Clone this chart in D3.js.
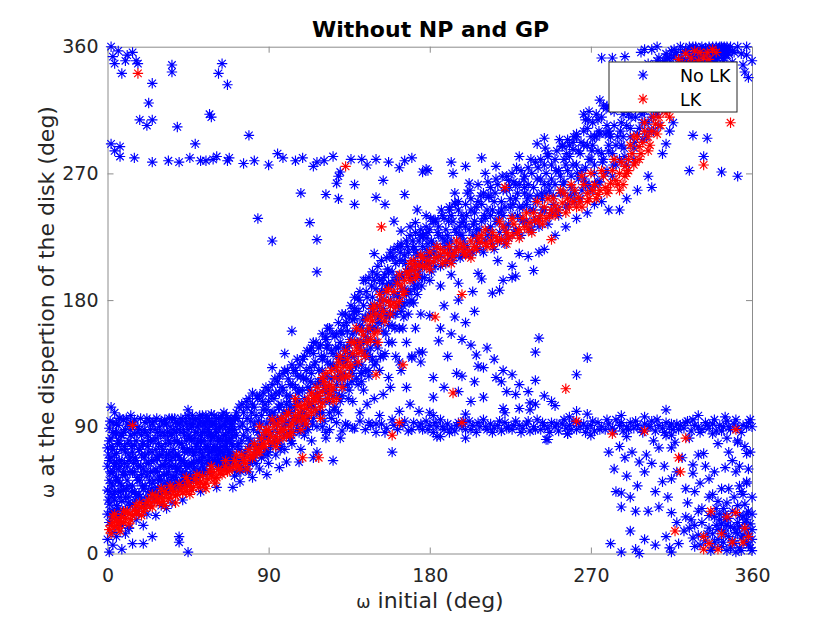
<!DOCTYPE html>
<html>
<head>
<meta charset="utf-8">
<title>Without NP and GP</title>
<script src="https://cdn.jsdelivr.net/npm/d3@7"></script>
<style>
  body { margin: 0; background: #fff; }
  text { font-family: "DejaVu Sans", sans-serif; }
</style>
</head>
<body>
<script>
// tick values
var xTicks = [0, 90, 180, 270, 360];
var yTicks = [0, 90, 180, 270, 360];

// "No LK" points, [omega initial, omega at dispersion], read off the picture by region
var noLKTopLeft = [[2,360],[3,353],[4,348],[8,341],[11,354],[10,350],[16,350],[17,348],[14,356],[6,357],
  [25,334],[23,320],[18,308],[22,304],[25,308],[36,347],[36,342],[39,303],[57,312],[58,310],[62,341],
  [64,348],[67,333],[49,291],[79,297],[2,291],[7,289],[7,282],[4,286]];

var noLKBand280 = [[15,281],[25,278],[40,278],[46,281],[52,279],[55,279],[59,280],[61,282],[67,279],[68,281],
  [76,277],[90,276],[95,284],[98,281],[105,279],[115,275],[117,278],[126,282],[130,271],[129,268],[128,263],
  [136,280],[142,280],[157,278],[163,274],[166,279],[176,271],[178,273],[150,280],[82,279],[34,279],
  [121,279],[170,281],[145,276],[109,281]];

var noLKMidScatter = [[108,256],[122,255],[129,252],[138,262],[138,248],[150,253],[154,265],[155,248],[166,255],
  [173,244],[84,238],[92,222],[113,235],[117,223],[117,200],[149,213],[144,194],[154,196],[164,229],[169,232],
  [164,218],[171,216],[159,211],[176,226],[172,235],[160,236],[178,240]];

var noLKTopRight = [[276,352],[289,353],[304,358],[312,355],[323,358],[328,354],[334,359],[340,360],[345,359],
  [357,354],[355,347],[358,338],[327,297],[335,295],[333,282],[325,272],[343,271],[352,268],[179,272],[192,278],
  [193,270],[200,275],[209,281],[202,263],[211,270],[217,275],[224,265],[230,282],[240,291],[244,295],[254,289],
  [260,287],[269,314],[267,308],[274,308],[194,256],[194,249],[183,237],[191,244],[198,235],[206,246],[213,253],
  [262,298],[285,317],[290,330],[296,340],[302,348],[308,352],[315,357],[318,345],[300,325],[295,318],[280,300],
  [272,296],[283,322],[292,336],[305,338],[311,350],[320,360],[331,359],[336,357],[343,358],[347,355],[330,345],
  [338,349],[325,340],[282,352],[298,356],[356,342],[360,350],[300,358],[307,360],[316,352],[322,350],[335,350],
  [340,346],[344,352],[349,349],[352,360],[354,355],[357,360],[318,338],[313,345],[306,332],[324,332],[310,324]];

var noLKLowerCloud = [[0,28],[0,45],[0,62],[0,75],[1,52],[1,89],[1,35],[1,22],[2,40],[2,68],[2,82],[2,57],[3,30],
  [3,48],[3,93],[3,15],[4,62],[4,100],[4,38],[4,25],[5,71],[5,54],[5,85],[6,44],[6,32],[6,60],[6,91],[7,78],[7,27],
  [7,50],[8,66],[8,37],[8,84],[8,20],[9,58],[9,45],[9,95],[10,72],[10,30],[10,88],[11,52],[11,62],[12,40],[12,80],
  [12,18],[13,93],[13,68],[14,48],[14,35],[15,77],[15,58],[15,85],[16,42],[16,66],[17,30],[17,90],[18,52],[18,74],
  [19,38],[19,84],[20,60],[20,46],[21,93],[21,70],[22,35],[22,55],[23,80],[23,64],[24,43],[24,88],[25,50],[25,72],
  [26,38],[26,94],[27,60],[27,82],[28,47],[28,68],[29,90],[29,55],[30,76],[30,42],[31,86],[31,63],[32,50],[32,95],
  [33,70],[33,45],[34,80],[34,58],[35,90],[35,66],[36,48],[36,85],[37,74],[37,55],[38,93],[38,62],[39,50],[39,80],
  [40,68],[40,88],[41,58],[41,96],[42,75],[42,50],[43,84],[43,64],[44,92],[44,55],[45,72],[45,98],[46,62],[46,82],
  [47,52],[47,90],[48,70],[48,60],[49,86],[49,95],[50,66],[50,78],[51,56],[51,92],[52,74],[52,84],[53,62],[53,98],
  [54,80],[54,68],[55,90],[55,58],[56,76],[56,94],[57,64],[57,86],[58,72],[58,99],[59,82],[59,66],[60,92],[60,75],
  [61,62],[61,86],[62,96],[62,70],[63,80],[63,66],[64,90],[64,76],[65,100],[65,70],[66,84],[66,94],[67,74],[67,62],
  [68,88],[68,80],[69,96],[69,70],[70,84],[70,92],[2,104],[13,98],[45,102],[1,1],[8,3],[14,7],[20,7],[25,12],
  [40,12],[40,8],[45,1],[12,18],[20,20],[27,27],[33,32],[42,38],[52,44],[61,47],[70,47],[74,51],[81,54],[89,56],
  [96,61],[100,65],[107,65],[115,68],[0,10],[3,6],[5,12],[10,14],[16,24],[22,28],[30,34],[36,36]];

var noLKLowerCloudMore = [[1,44],[1,66],[1,80],[2,30],[2,50],[3,74],[3,86],[3,58],[4,44],[4,70],[5,34],[5,92],
  [5,64],[6,52],[6,80],[7,40],[7,96],[7,62],[8,48],[8,74],[9,28],[9,86],[10,56],[10,40],[11,78],[11,92],[12,48],
  [12,66],[13,34],[13,84],[14,58],[14,72],[15,44],[15,95],[16,30],[16,80],[17,62],[17,52],[18,40],[18,88],[19,70],
  [19,56],[20,34],[20,78],[21,48],[21,86],[22,64],[22,96],[23,44],[23,72],[24,58],[24,80],[25,40],[25,92],[26,66],
  [26,52],[27,74],[27,44],[28,86],[28,58],[29,40],[29,70],[30,52],[30,94],[31,74],[31,46],[32,62],[32,84],[33,56],
  [33,92],[34,44],[34,70],[35,78],[35,52],[36,62],[36,96],[37,88],[37,46],[38,70],[38,52],[39,60],[39,92],[40,48],
  [40,78],[41,66],[41,86],[42,56],[42,94],[43,72],[43,50],[44,80],[44,62],[45,88],[45,54],[46,74],[46,96],[47,64],
  [47,80],[48,52],[48,92],[49,72],[49,58],[50,86],[50,96],[51,66],[51,80],[52,58],[52,94],[53,70],[53,86],[54,60],
  [54,92],[55,76],[55,98],[56,66],[56,84],[57,72],[57,94],[58,62],[58,84],[59,74],[59,92],[60,66],[60,84],[61,74],
  [61,96],[62,64],[62,82],[63,90],[63,72],[64,68],[64,98],[65,80],[65,62],[66,76],[66,90],[67,68],[67,96],[68,72],
  [68,62],[69,82],[69,92],[70,66],[70,76],[71,96],[72,84],[73,64],[74,74]];

var noLKLowerCloudHalf = [[0.5,38],[0.5,70],[1.5,58],[1.5,94],[2.5,26],[2.5,76],[3.5,42],[3.5,64],[4.5,86],
  [4.5,52],[5.5,30],[5.5,78],[6.5,66],[6.5,96],[7.5,44],[7.5,84],[8.5,56],[8.5,30],[9.5,76],[9.5,64],[10.5,46],
  [10.5,96],[11.5,70],[11.5,36],[12.5,58],[12.5,88],[13.5,44],[13.5,76],[14.5,64],[14.5,92],[15.5,38],[15.5,68],
  [16.5,54],[16.5,86],[17.5,74],[17.5,42],[18.5,62],[18.5,96],[19.5,48],[19.5,78],[20.5,68],[20.5,88],[21.5,40],
  [21.5,58],[22.5,76],[22.5,84],[23.5,52],[23.5,94],[24.5,66],[24.5,46],[25.5,80],[25.5,58],[26.5,44],[26.5,88],
  [27.5,68],[27.5,96],[28.5,52],[28.5,78],[29.5,62],[29.5,84],[30.5,46],[30.5,70],[31.5,56],[31.5,92],[32.5,78],
  [32.5,66],[33.5,86],[33.5,50],[34.5,62],[34.5,96],[35.5,72],[35.5,84],[36.5,54],[36.5,68],[37.5,80],[37.5,96],
  [38.5,58],[38.5,86],[39.5,70],[39.5,48],[40.5,92],[40.5,62],[41.5,78],[41.5,52],[42.5,66],[42.5,88],[43.5,58],
  [43.5,96],[44.5,74],[44.5,48],[45.5,64],[45.5,84],[46.5,56],[46.5,92],[47.5,72],[47.5,98],[48.5,82],[48.5,64],
  [49.5,54],[49.5,76],[50.5,90],[50.5,60],[51.5,72],[51.5,98],[52.5,66],[52.5,80],[53.5,92],[53.5,56],[54.5,74],
  [54.5,86],[55.5,64],[55.5,96],[56.5,70],[56.5,88],[57.5,58],[57.5,80],[58.5,92],[58.5,66],[59.5,76],[59.5,98],
  [60.5,70],[60.5,88],[61.5,80],[61.5,66],[62.5,90],[62.5,74],[63.5,96],[63.5,62],[64.5,84],[64.5,72],[65.5,92],
  [65.5,66],[66.5,80],[66.5,98],[67.5,70],[67.5,86],[68.5,94],[68.5,66],[69.5,78],[69.5,88]];

var noLKMainBand = [[71,55],[72,68],[72,100],[73,78],[74,90],[75,62],[75,106],[76,84],[77,72],[78,96],[79,58],
  [79,110],[80,80],[81,66],[82,92],[82,104],[83,74],[84,86],[85,60],[85,112],[86,98],[87,70],[88,82],[88,106],
  [89,92],[90,64],[90,116],[91,76],[92,100],[92,86],[93,110],[94,70],[95,96],[95,122],[96,80],[97,106],[98,90],
  [98,128],[99,74],[100,112],[100,100],[101,86],[102,120],[103,78],[103,134],[104,96],[105,108],[106,88],[106,126],
  [107,116],[108,74],[108,100],[109,138],[110,110],[110,84],[111,124],[112,96],[113,132],[113,116],[114,80],
  [115,104],[115,142],[116,120],[117,90],[118,130],[118,110],[119,148],[120,100],[120,138],[121,118],[122,86],
  [122,152],[123,126],[124,108],[125,144],[125,96],[126,134],[127,116],[128,156],[128,140],[129,100],[130,124],
  [130,150],[131,112],[132,162],[132,136],[133,92],[134,146],[134,120],[135,168],[136,130],[137,156],[137,108],
  [138,140],[139,172],[139,124],[140,150],[141,100],[141,162],[142,134],[143,176],[143,116],[144,154],[145,144],
  [146,170],[146,126],[147,160],[148,182],[148,138],[149,110],[150,150],[151,176],[151,164],[152,130],[153,186],
  [154,158],[155,170],[155,142],[156,190],[157,162],[158,180],[158,118],[159,150],[160,194],[160,170],[161,140],
  [162,184],[163,160],[164,198],[164,130],[165,176],[166,188],[167,150],[168,202],[168,170],[169,186],[170,140],
  [170,196],[171,178],[172,206],[172,160],[173,190],[174,200],[175,170],[175,212],[103,158],[99,142],[92,132],
  [81,114],[122,154],[138,174],[138,167],[84,76],[93,94],[102,104],[111,90],[119,122],[127,104],[135,142],
  [144,130],[153,172],[161,192],[167,184],[78,88],[87,102],[96,114],[105,130],[114,146],[123,160],[131,170],
  [140,182],[149,194],[157,200],[165,208]];

var noLKMainBandMore = [[70,70],[71,88],[72,58],[73,96],[74,66],[75,80],[76,100],[77,60],[78,104],[79,76],[80,94],
  [80,66],[81,106],[82,78],[83,64],[83,98],[84,110],[85,82],[86,68],[86,92],[87,114],[88,74],[89,102],[89,84],
  [90,72],[90,108],[91,94],[92,120],[93,80],[93,100],[94,114],[95,86],[96,104],[96,126],[97,76],[97,96],[98,116],
  [99,84],[99,130],[100,106],[101,94],[101,124],[102,82],[102,112],[103,100],[104,130],[104,86],[105,118],[106,96],
  [106,138],[107,108],[107,86],[108,126],[109,92],[109,116],[110,140],[110,100],[111,130],[112,88],[112,118],
  [113,144],[114,106],[114,128],[115,96],[115,150],[116,112],[116,136],[117,100],[118,122],[118,146],[119,108],
  [120,130],[120,156],[121,94],[121,140],[122,114],[123,136],[123,148],[124,100],[124,160],[125,124],[126,142],
  [126,112],[127,154],[127,132],[128,120],[129,146],[129,164],[130,108],[130,138],[131,156],[131,128],[132,146],
  [132,118],[133,170],[133,136],[134,158],[135,116],[135,148],[136,176],[136,140],[137,128],[137,166],[138,150],
  [138,182],[139,134],[139,158],[140,120],[140,172],[141,146],[141,186],[142,160],[142,128],[143,150],[143,194],
  [144,168],[144,140],[145,182],[145,158],[146,130],[146,196],[147,176],[147,146],[148,160],[148,200],[149,170],
  [149,134],[150,188],[150,160],[151,204],[151,146],[152,180],[152,194],[153,164],[153,208],[154,174],[154,140],
  [155,198],[155,186],[156,168],[156,210],[157,150],[157,192],[158,176],[158,214],[159,200],[159,162],[160,184],
  [160,216],[161,206],[161,170],[162,194],[162,218],[163,182],[163,208],[164,172],[164,220],[165,196],[165,160],
  [166,212],[166,178],[167,200],[167,222],[168,186],[168,214],[169,196],[169,226],[170,208],[170,180],[171,218],
  [171,192],[172,228],[172,198],[173,212],[173,184],[174,222],[174,196],[175,206],[175,230],[176,196],[177,210],
  [178,232],[179,220],[180,206]];

var noLKMainBandHalf = [[70.5,62],[71.5,96],[72.5,76],[73.5,104],[74.5,58],[75.5,92],[76.5,70],[77.5,108],
  [78.5,82],[79.5,64],[80.5,100],[81.5,88],[82.5,70],[83.5,112],[84.5,94],[85.5,76],[86.5,108],[87.5,86],
  [88.5,118],[89.5,70],[90.5,98],[91.5,112],[92.5,78],[93.5,124],[94.5,92],[95.5,104],[96.5,74],[97.5,118],
  [98.5,100],[99.5,92],[100.5,130],[101.5,108],[102.5,80],[103.5,120],[104.5,104],[105.5,92],[106.5,114],
  [107.5,134],[108.5,96],[109.5,124],[110.5,88],[111.5,144],[112.5,106],[113.5,122],[114.5,92],[115.5,134],
  [116.5,150],[117.5,114],[118.5,100],[119.5,140],[120.5,124],[121.5,108],[122.5,146],[123.5,118],[124.5,134],
  [125.5,156],[126.5,102],[127.5,146],[128.5,126],[129.5,112],[130.5,158],[131.5,140],[132.5,126],[133.5,164],
  [134.5,110],[135.5,152],[136.5,122],[137.5,172],[138.5,134],[139.5,150],[140.5,180],[141.5,128],[142.5,166],
  [143.5,142],[144.5,186],[145.5,152],[146.5,140],[147.5,190],[148.5,172],[149.5,150],[150.5,198],[151.5,168],
  [152.5,140],[153.5,192],[154.5,180],[155.5,156],[156.5,202],[157.5,170],[158.5,190],[159.5,210],[160.5,160],
  [161.5,196],[162.5,176],[163.5,214],[164.5,188],[165.5,168],[166.5,206],[167.5,218],[168.5,178],[169.5,202],
  [170.5,222],[171.5,188],[172.5,214],[173.5,204],[174.5,226],[175.5,190]];

var noLKUpperBand = [[176,218],[177,196],[178,224],[179,212],[180,230],[181,200],[182,220],[183,236],[184,210],
  [185,226],[186,204],[187,240],[188,218],[189,230],[190,208],[191,246],[192,222],[193,236],[194,214],[195,228],
  [196,250],[197,210],[198,240],[199,222],[200,232],[201,256],[202,212],[203,244],[204,226],[205,236],[206,218],
  [207,262],[208,230],[209,248],[210,214],[211,238],[212,226],[213,254],[214,232],[215,244],[216,216],[217,266],
  [218,236],[219,228],[220,250],[221,240],[222,220],[223,258],[224,234],[225,246],[226,270],[227,228],[228,252],
  [229,240],[230,262],[231,226],[232,246],[233,256],[234,236],[235,274],[236,244],[237,230],[238,260],[239,250],
  [240,266],[241,238],[242,280],[243,252],[244,244],[245,270],[246,234],[247,258],[248,276],[249,248],[250,262],
  [251,286],[252,240],[253,268],[254,256],[255,280],[256,246],[257,272],[258,290],[259,260],[260,276],[261,250],
  [262,296],[263,266],[264,284],[265,258],[266,300],[267,274],[268,290],[269,262],[270,280],[271,306],[272,270],
  [273,296],[274,286],[275,264],[276,310],[277,280],[278,298],[279,272],[280,290],[281,316],[282,284],[283,304],
  [284,276],[285,296],[286,322],[287,290],[288,312],[289,282],[290,304],[291,328],[292,296],[293,318],[294,288],
  [295,310],[296,334],[297,302],[298,322],[299,294],[300,314],[301,340],[302,306],[303,328],[304,318],[305,300],
  [306,344],[307,312],[308,334],[309,322],[310,348],[311,330],[312,316],[313,340],[314,352],[315,326],[316,344],
  [317,336],[318,356],[319,340],[320,330],[321,350],[322,344],[323,358],[324,338],[325,352],[326,346],[327,360],
  [328,348],[329,342],[330,356],[331,350],[332,360],[333,346],[334,354],[335,358],[336,350],[337,356],[338,360],
  [339,352],[340,358],[341,354],[342,360],[343,356],[344,350],[345,358],[346,354],[348,360],[350,356],
  [180,194],[186,190],[192,198],[196,192],[204,186],[207,199],[209,195],[215,185],[219,187],[221,194],[226,196],
  [228,197],[230,213],[235,211],[238,201],[241,214],[218,208],[226,204],[244,216],[250,226],[256,232],[262,238],
  [268,242],[272,248],[276,250],[280,244],[286,244],[290,252],[296,258],[302,268],[304,260],[310,284],[312,291],
  [314,300],[316,306],[233,268],[246,282],[257,294],[266,312],[275,322],[284,334],[279,318],[288,340],[270,296],
  [252,272],[244,262],[236,254],[228,262],[222,246],[214,240],[206,230],[198,226],[190,220]];

var noLKUpperBandMore = [[177,204],[178,216],[179,228],[180,212],[181,222],[182,236],[183,204],[184,218],[185,232],
  [186,212],[187,224],[188,238],[189,206],[190,226],[191,216],[192,240],[193,208],[194,230],[195,218],[196,244],
  [197,226],[198,212],[199,236],[200,248],[201,218],[202,230],[203,252],[204,214],[205,242],[206,226],[207,250],
  [208,216],[209,236],[210,256],[211,222],[212,244],[213,230],[214,260],[215,220],[216,250],[217,236],[218,262],
  [219,222],[220,244],[221,258],[222,232],[223,268],[224,224],[225,252],[226,240],[227,264],[228,230],[229,256],
  [230,246],[231,272],[232,236],[233,260],[234,248],[235,262],[236,230],[237,270],[238,244],[239,278],[240,254],
  [241,232],[242,266],[243,244],[244,276],[245,256],[246,284],[247,240],[248,266],[249,254],[250,280],[251,244],
  [252,272],[253,256],[254,290],[255,264],[256,276],[257,248],[258,282],[259,268],[260,292],[261,256],[262,276],
  [263,286],[264,252],[265,272],[266,290],[267,262],[268,302],[269,280],[270,258],[271,290],[272,276],[273,312],
  [274,264],[275,298],[276,284],[277,318],[278,270],[279,304],[280,286],[281,296],[282,268],[283,314],[284,290],
  [285,328],[286,280],[287,306],[288,296],[289,322],[290,276],[291,312],[292,302],[293,334],[294,280],[295,322],
  [296,298],[297,316],[298,340],[299,306],[300,330],[301,296],[302,320],[303,342],[304,310],[305,334],[306,324],
  [307,350],[308,304],[309,338],[310,316],[311,342],[312,328],[313,352],[314,320],[315,346],[316,334],[317,354],
  [318,326],[319,348],[320,340],[321,356],[322,334],[323,350],[324,346],[325,360],[326,340],[327,352],[328,358],
  [329,350],[330,346],[331,354],[332,348],[333,358],[334,344],[335,352],[336,360],[337,348],[338,354],[339,358],
  [340,350],[341,358],[342,354],[343,360],[344,356],[345,354],[346,360],[347,358],[349,357]];

var noLKUpperBandHalf = [[176.5,226],[178.5,206],[180.5,238],[182.5,214],[184.5,228],[186.5,244],[188.5,222],
  [190.5,236],[192.5,212],[194.5,248],[196.5,232],[198.5,218],[200.5,240],[202.5,258],[204.5,234],[206.5,222],
  [208.5,254],[210.5,240],[212.5,264],[214.5,226],[216.5,256],[218.5,242],[220.5,268],[222.5,228],[224.5,260],
  [226.5,248],[228.5,274],[230.5,238],[232.5,266],[234.5,252],[236.5,280],[238.5,236],[240.5,274],[242.5,256],
  [244.5,288],[246.5,262],[248.5,242],[250.5,272],[252.5,294],[254.5,262],[256.5,284],[258.5,254],[260.5,296],
  [262.5,270],[264.5,292],[266.5,266],[268.5,308],[270.5,286],[272.5,262],[274.5,300],[276.5,278],[278.5,316],
  [280.5,298],[282.5,276],[284.5,320],[286.5,300],[288.5,288],[290.5,334],[292.5,310],[294.5,292],[296.5,326],
  [298.5,312],[300.5,338],[302.5,300],[304.5,346],[306.5,316],[308.5,342],[310.5,326],[312.5,352],[314.5,336],
  [316.5,358],[318.5,344],[320.5,352],[322.5,338],[324.5,356],[326.5,350],[328.5,360],[330.5,352],[332.5,356],
  [334.5,348],[336.5,358],[338.5,354],[340.5,352],[342.5,358],[344.5,360],[346.5,356]];

var noLKBranches = [[241,153],[239,143],[268,139],[262,127],[248,108],[239,106],[230,103],[221,103],[210,111],
  [203,108],[217,125],[221,130],[226,127],[198,126],[195,128],[182,111],[182,125],[190,140],[185,151],[198,152],
  [203,148],[206,141],[207,133],[210,132],[223,115],[228,113],[220,122],[239,123],[176,143],[175,136],[194,168],
  [184,83],[246,81],[257,85],[236,107],[159,72],[167,118],[174,143],[170,139],[163,136],[169,106],[163,101],
  [174,101],[154,113],[152,98],[145,106],[157,125],[150,136],[142,122],[146,93],[137,89],[130,82],[122,82],
  [117,72],[126,66],[186,160],[192,156],[200,164],[212,146],[216,138],[230,120],[235,115],[244,112],[250,105],
  [188,118],[180,100],[196,115],[205,122],[180,169],[188,176],[196,180],[205,172]];

var noLKBand90 = [[120,90],[124,88],[128,93],[131,87],[134,91],[138,89],[141,94],[144,88],[147,91],[150,86],
  [153,92],[156,89],[159,95],[162,88],[165,91],[168,87],[171,93],[174,90],[176,88],[178,94],[180,91],[182,86],
  [184,90],[186,95],[188,88],[190,92],[192,89],[194,87],[196,93],[198,90],[200,88],[202,94],[204,91],[206,86],
  [208,90],[210,95],[212,88],[214,92],[216,89],[218,91],[220,87],[222,93],[224,90],[226,88],[228,94],[230,91],
  [232,89],[234,92],[236,87],[238,90],[240,95],[242,88],[244,91],[246,89],[248,93],[250,90],[252,87],[254,92],
  [256,89],[258,91],[260,94],[262,88],[264,90],[266,92],[268,89],[270,91],[272,87],[274,93],[276,90],[278,88],
  [280,92],[282,89],[284,95],[286,91],[288,87],[290,90],[292,93],[294,89],[296,91],[298,88],[300,92],[302,90],
  [304,94],[306,87],[308,91],[310,89],[312,93],[314,90],[316,88],[318,92],[320,91],[322,89],[324,94],[326,87],
  [328,91],[330,90],[332,88],[334,93],[336,89],[338,92],[340,87],[342,91],[344,90],[346,94],[348,88],[350,92],
  [352,89],[355,91],[358,93],[360,90],[186,83],[200,82],[245,81],[257,85],[270,84],[290,83],[305,80],[315,84],
  [325,82],[338,85],[352,80],[182,98],[200,99],[222,100],[236,102],[258,97],[262,101],[268,99],[287,98],[300,97],
  [312,102],[330,98],[345,97]];

var noLKBand90More = [[150,92],[155,86],[160,91],[166,94],[170,88],[175,92],[179,88],[183,93],[187,90],[191,86],
  [195,91],[199,94],[203,88],[207,93],[211,90],[215,86],[219,94],[223,89],[227,91],[231,86],[235,94],[239,88],
  [243,93],[247,86],[251,92],[255,95],[259,88],[263,93],[267,86],[271,94],[275,88],[279,95],[283,87],[287,93],
  [291,88],[295,94],[299,86],[303,90],[307,95],[311,86],[315,92],[319,88],[323,93],[327,95],[331,86],[335,91],
  [339,95],[343,87],[347,90],[351,95],[354,86],[357,90],[359,95]];

var noLKBottomRight = [[280,72],[286,76],[289,68],[297,65],[293,72],[301,70],[308,75],[312,84],[315,75],[317,79],
  [333,71],[327,63],[327,57],[336,53],[310,51],[315,53],[323,46],[328,44],[284,44],[287,43],[292,40],[287,33],
  [295,30],[302,30],[308,33],[315,29],[323,26],[332,32],[338,42],[345,61],[351,58],[347,72],[352,79],[357,71],
  [359,72],[353,48],[347,46],[355,42],[357,51],[341,37],[336,27],[328,20],[325,18],[327,11],[319,7],[314,4],
  [295,3],[287,1],[281,7],[297,0],[315,1],[340,20],[341,10],[342,28],[343,5],[344,16],[345,24],[346,2],[347,12],
  [348,19],[349,30],[350,7],[351,15],[352,22],[353,4],[354,11],[355,26],[356,18],[357,8],[358,14],[359,21],
  [360,17],[360,10],[359,4],[357,24],[355,13],[353,19],[351,1],[349,9],[347,25],[345,14],[343,21],[341,17],
  [339,8],[338,14],[337,2],[336,18],[334,9],[332,22],[330,13],[328,5],[358,30],[356,35],[354,44],[360,28],[357,50],
  [283,60],[290,55],[296,48],[300,58],[304,64],[306,44],[311,62],[313,40],[318,58],[321,68],[324,36],[330,70],
  [331,50],[334,62],[339,58],[341,78],[343,46],[346,82],[349,66],[353,62],[356,76],[358,60],[360,40],[344,32],
  [339,26],[350,40],[352,34],[346,36],[336,40],[330,30],[326,24],[322,16],[318,22],[312,12],[306,6],[300,10],
  [292,16],[344,8],[348,4],[352,14],[354,2],[356,22],[358,6],[360,2],[338,4],[342,24],[350,18],[346,20],[335,14],
  [331,6],[340,32],[357,28],[353,27],[345,28]];

// "LK" points
var lkPoints = [[1,17],[2,20],[3,22],[4,19],[5,24],[6,21],[7,23],[8,26],[10,25],[12,28],[14,27],[15,31],[17,30],
  [19,33],[21,32],[22,36],[24,34],[26,37],[28,38],[30,40],[31,37],[33,42],[35,40],[37,44],[39,42],[41,45],[43,47],
  [44,44],[46,48],[48,47],[50,50],[52,51],[54,49],[56,53],[58,55],[59,58],[61,54],[63,57],[65,59],[67,58],[70,61],
  [72,63],[74,60],[76,66],[78,68],[80,70],[83,75],[85,72],[87,78],[90,80],[92,79],[94,83],[96,86],[98,82],[100,84],
  [102,90],[104,95],[107,100],[109,97],[111,103],[113,106],[115,110],[118,112],[120,115],[122,118],[124,113],
  [127,125],[130,129],[132,133],[134,138],[137,142],[139,146],[141,150],[143,155],[146,160],[148,165],[148,174],
  [150,170],[152,176],[154,180],[157,179],[160,186],[163,179],[164,190],[166,194],[168,198],[170,201],[172,203],
  [174,205],[176,204],[179,208],[182,207],[185,211],[187,206],[190,213],[193,211],[196,216],[199,214],[202,215],
  [205,218],[208,221],[211,220],[214,222],[217,225],[220,223],[223,228],[226,226],[230,230],[233,232],[236,235],
  [239,237],[242,240],[245,238],[248,244],[250,247],[254,249],[257,252],[260,250],[263,253],[265,246],[268,256],
  [271,258],[274,255],[278,260],[281,263],[284,265],[286,270],[288,262],[289,275],[291,280],[293,284],[295,278],
  [297,289],[299,292],[302,296],[304,300],[306,305],[308,310],[312,313],[315,330],[319,351],[323,355],[328,357],
  [333,352],[336,351],[340,356],
  [17,341],[133,275],[153,232],[14,91],[118,68],[109,68],[159,84],[163,93],[165,134],[150,127],[198,184],[222,260],
  [248,223],[348,306],[333,276],[198,93],[183,168],[193,114],[256,117],[262,94],[282,85],[300,87],[323,82],[351,88],
  [319,68],[320,58],[337,30],[346,26],[351,29],[317,16],[333,12],[336,7],[341,3],[349,8],[355,8],[333,3],[358,12],
  [356,18],[343,14],
  [85,90],[88,86],[92,95],[95,92],[97,88],[100,98],[103,92],[106,105],[108,88],[110,95],[112,110],[116,102],
  [120,107],[124,120],[126,108],[128,132],[131,118],[135,126],[136,150],[140,136],[144,140],[147,152],[151,158],
  [155,165],[158,170],[161,175],[120,125]];

var lkPointsMore = [[3,26],[6,18],[9,22],[11,30],[13,24],[16,28],[18,36],[20,30],[23,38],[25,33],[27,41],[29,36],
  [32,44],[34,39],[36,46],[38,41],[40,49],[42,43],[45,51],[47,45],[49,53],[51,47],[53,55],[55,50],[57,58],[60,53],
  [62,60],[64,56],[66,62],[68,59],[71,66],[73,62],[75,70],[77,64],[79,74],[81,68],[82,78],[84,72],[86,82],[88,76],
  [89,88],[91,84],[93,90],[95,80],[97,96],[99,88],[101,100],[103,86],[105,98],[107,94],[110,106],[112,98],
  [114,114],[116,108],[117,118],[119,104],[121,122],[123,110],[125,130],[126,118],[129,136],[131,124],[133,144],
  [135,132],[138,150],[140,142],[142,158],[145,150],[147,168],[149,156],[152,184],[153,168],[156,186],[158,176],
  [162,192],[165,184],[167,200],[169,194],[171,208],[173,198],[175,212],[178,204],[180,214],[183,210],[186,216],
  [189,208],[191,218],[194,214],[197,220],[200,212],[203,222],[206,216],[209,226],[212,218],[215,228],[218,222],
  [221,232],[224,224],[227,234],[229,228],[232,238],[235,230],[238,242],[241,236],[244,246],[247,240],[249,252],
  [252,244],[255,256],[258,246],[261,258],[264,250],[266,262],[269,252],[272,262],[275,258],[277,268],[280,258],
  [282,272],[285,262],[287,278],[290,270],[292,290],[294,276],[296,296],[298,284],[300,300],[303,290],[305,310],
  [307,298],[310,318],[313,320],[317,340],[321,348],[326,352],[331,356],[338,358]];

var lkScatter = [[82,70],[86,76],[90,88],[94,76],[98,94],[102,84],[105,110],[108,104],[111,92],[114,100],[117,112],
  [119,96],[122,128],[125,116],[128,110],[130,140],[133,126],[136,134],[139,160],[142,144],[145,166],[149,176],
  [151,150],[154,172],[157,188],[160,178],[163,198],[166,186],[169,206],[172,196],[176,210],[180,202],[184,218],
  [188,214],[192,206],[195,222],[199,218],[203,210],[207,224],[211,230],[215,218],[219,236],[223,220],[226,238],
  [230,224],[234,242],[237,228],[240,250],[243,234],[246,252],[250,240],[253,258],[256,242],[259,262],[262,246],
  [265,268],[268,250],[270,270],[273,252],[276,272],[279,256],[283,280],[286,258],[289,268],[291,272],[294,296],
  [297,280],[300,306],[302,286],[305,316],[309,304],[311,326],[314,310],[316,336],[318,324],[322,340],[326,348],
  [330,350],[335,356],[2,14],[4,28],[7,16],[9,30],[12,21],[16,34],[19,27],[25,42],[30,46],[35,48],[44,54],[50,56],
  [58,62],[66,66],[72,70],[78,60],[60,50],[55,46],[46,42],[38,36],[32,34]];

var noLK = [].concat(noLKTopLeft, noLKBand280, noLKMidScatter, noLKTopRight, noLKLowerCloud, noLKLowerCloudMore,
  noLKLowerCloudHalf, noLKMainBand, noLKMainBandMore, noLKMainBandHalf, noLKUpperBand, noLKUpperBandMore,
  noLKUpperBandHalf, noLKBranches, noLKBand90, noLKBand90More, noLKBottomRight);
var lk = [].concat(lkPoints, lkPointsMore, lkScatter);

var svg = d3.select("body").append("svg")
    .attr("width", 831)
    .attr("height", 623);

var x = d3.scaleLinear().domain([0, 360]).range([107.5, 752]);
var y = d3.scaleLinear().domain([0, 360]).range([553.5, 46.7]);

// asterisk marker, like matlab '*'
var r = 5.2, dg = r * 0.72;
var star = "M" + (-r) + ",0H" + r + "M0," + (-r) + "V" + r +
  "M" + (-dg) + "," + (-dg) + "L" + dg + "," + dg +
  "M" + (-dg) + "," + dg + "L" + dg + "," + (-dg);

function drawPoints(data, colour) {
  svg.append("g").selectAll("path")
      .data(data)
      .enter()
      .append("path")
      .attr("transform", function(d) { return "translate(" + x(d[0]) + "," + y(d[1]) + ")"; })
      .attr("d", star)
      .attr("fill", "none")
      .attr("stroke", colour)
      .attr("stroke-width", 1.15);
}

// axes
var axisColour = "#8c8c8c";
function styleAxis(g) {
  g.select(".domain").attr("stroke", axisColour);
  g.selectAll(".tick line").attr("stroke", axisColour);
  g.selectAll(".tick text").attr("fill", "#262626").attr("font-size", 19)
    .attr("font-family", "'DejaVu Sans', sans-serif");
}

svg.append("g")
    .attr("transform", "translate(0," + y(0) + ")")
    .call(d3.axisBottom(x).tickValues(xTicks).tickSizeInner(-6).tickSizeOuter(0).tickPadding(15))
    .call(styleAxis);
svg.append("g")
    .attr("transform", "translate(0," + y(360) + ")")
    .call(d3.axisTop(x).tickValues(xTicks).tickSizeInner(-6).tickSizeOuter(0).tickFormat(""))
    .call(styleAxis);
svg.append("g")
    .attr("transform", "translate(" + x(0) + ",0)")
    .call(d3.axisLeft(y).tickValues(yTicks).tickSizeInner(-6).tickSizeOuter(0).tickPadding(9))
    .call(styleAxis);
svg.append("g")
    .attr("transform", "translate(" + x(360) + ",0)")
    .call(d3.axisRight(y).tickValues(yTicks).tickSizeInner(-6).tickSizeOuter(0).tickFormat(""))
    .call(styleAxis);

drawPoints(noLK, "#0000ff");
drawPoints(lk, "#ff0000");

// title and labels
svg.append("text")
    .attr("x", 430.5).attr("y", 36.5)
    .attr("text-anchor", "middle")
    .attr("font-size", 22).attr("font-weight", "bold")
    .attr("fill", "#000")
    .text("Without NP and GP");

var xl = svg.append("text")
    .attr("x", 430).attr("y", 608)
    .attr("text-anchor", "middle")
    .attr("font-size", 22).attr("fill", "#262626");
xl.append("tspan").attr("font-size", 17).text("ω");
xl.append("tspan").text(" initial (deg)");

var yl = svg.append("text")
    .attr("transform", "translate(54,302) rotate(-90)")
    .attr("text-anchor", "middle")
    .attr("font-size", 22).attr("fill", "#262626");
yl.append("tspan").attr("font-size", 17).text("ω");
yl.append("tspan").text(" at the dispertion of the disk (deg)");

// legend
var legend = svg.append("g");
legend.append("rect")
    .attr("x", 609).attr("y", 62).attr("width", 128).attr("height", 50)
    .attr("fill", "#fff").attr("stroke", "#262626").attr("stroke-width", 1);
var entries = [["No LK", "#0000ff"], ["LK", "#ff0000"]];
entries.forEach(function(e, i) {
  legend.append("path")
      .attr("transform", "translate(643," + (75 + i * 24) + ")")
      .attr("d", star).attr("fill", "none").attr("stroke", e[1]).attr("stroke-width", 1.15);
  legend.append("text")
      .attr("x", 680).attr("y", 82 + i * 24)
      .attr("font-size", 17.5).attr("fill", "#000")
      .text(e[0]);
});
</script>
</body>
</html>
